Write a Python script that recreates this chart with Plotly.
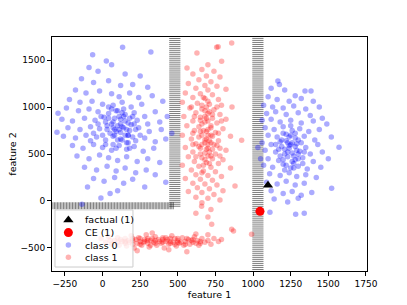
import numpy as np
import plotly.graph_objects as go

# ---- data ----
class0_a = [(133,1635),(-66,1557),(321,1585),(-296,933),(-303,731),(-11,32),(-137,-35),(25,1490),(60,1450),(-90,1420),
(-30,1380),(150,1350),(250,1330),(-140,1300),(-60,1260),(40,1280),(120,1230),(200,1240),(300,1210),(-180,1180),
(-110,1150),(-20,1170),(60,1140),(110,1110),(180,1150),(240,1100),(330,1120),(-220,1080),(-150,1050),(-70,1060),
(0,1030),(70,1020),(130,1050),(190,1000),(260,1030),(400,1060),(-240,990),(-160,960),(-90,980),(-30,950),
(40,930),(90,960),(150,920),(210,940),(280,900),(350,950),(430,900),(-270,870),(-200,850),(-120,880),
(-50,860),(10,890),(70,840),(120,870),(170,830),(230,860),(300,820),(380,840),(-230,780),(-150,760),
(-80,790),(-20,770),(30,800),(80,760),(130,790),(180,750),(240,780),(310,740),(390,760),(460,720),
(-260,690),(-180,670),(-110,700),(-40,680),(20,650),(70,690),(120,660),(170,700),(220,640),(280,670),
(350,630),(420,660),(-200,590),(-130,560),(-60,600),(0,570),(60,540),(110,590),(160,550),(210,580),
(270,530),(340,560),(-170,480),(-90,450),(-20,490),(40,460),(100,430),(160,470),(230,420),(300,450),
(380,410),(-120,360),(-40,330),(30,370),(90,320),(150,350),(220,300),(290,330),(-60,240),(10,210),
(80,250),(140,190),(200,230),(280,150),(350,280),(420,200),(100,110),(-100,150),(50,80),
(60,820),(100,800),(140,780),(90,740),(150,850),(110,900),(50,720),(170,700),(130,650),(80,880),
(190,810),(30,760),(120,730),(160,620),(70,600),(200,900),(100,960),(20,840),(180,560),(140,980),
(0,700),(40,880),(80,700),(120,820),(160,760),(200,680),(-30,820),(60,980),(100,650),(140,900),
(180,880),(220,760),(-60,720),(20,600),(90,560),(150,700),(110,760),(70,780),(130,940),(-10,900),
(250,700),(40,1000),(170,620),(210,820),(-80,640)]

class0_b = [(1165,1277),(1175,1240),(1345,1170),(1385,1170),(1120,1200),(1210,1180),(1280,1120),(1100,1110),(1160,1080),(1240,1060),
(1320,1090),(1400,1060),(1070,1020),(1130,1000),(1200,990),(1270,1010),(1350,980),(1440,1000),(1090,930),(1150,950),
(1220,920),(1300,940),(1380,910),(1460,880),(1060,860),(1120,870),(1180,840),(1250,860),(1320,830),(1400,850),
(1490,820),(1080,780),(1140,760),(1200,790),(1260,750),(1310,770),(1370,740),(1440,760),(1100,700),(1160,680),
(1220,710),(1280,670),(1340,690),(1410,650),(1520,680),(1060,620),(1120,600),(1180,630),(1240,590),(1290,610),
(1350,570),(1430,600),(1571,571),(1080,540),(1150,520),(1210,550),(1260,510),(1310,530),(1380,500),(1460,520),
(1100,450),(1170,430),(1230,470),(1280,440),(1330,460),(1400,420),(1500,450),(1070,380),(1130,360),(1200,390),
(1250,350),(1300,370),(1360,340),(1450,360),(1110,290),(1180,270),(1240,300),(1290,260),(1350,280),(1420,250),
(1090,200),(1160,180),(1220,210),(1280,170),(1340,190),(1522,135),(1120,110),(1200,80),(1260,100),(1320,60),
(1390,90),(1140,20),(1230,-10),(1300,30),(1283,-141),(1340,-130),(1112,-120),(1032,570),(1050,450),(1240,560),
(1270,480),(1220,640),(1200,440),(1260,620),(1290,540),(1230,520),(1250,700),(1190,580),(1300,450),(1270,400),(1210,330),
(1250,600),(1280,580),(1230,620),(1210,500),(1300,500),(1260,420),(1190,650),(1320,620),(1240,680),(1280,720),
(1170,550),(1340,520),(1220,380),(1300,650),(1150,600),(1270,350),(1200,720),(1330,400),(1250,800),(1180,480)]

class1_a = [(858,1681),(758,1635),(768,1640),(627,1575),(561,1415),(791,1486),(700,1450),(660,1400),(740,1380),(600,1350),
(690,1330),(780,1320),(640,1290),(720,1270),(570,1250),(680,1230),(760,1220),(620,1200),(700,1180),(820,1190),
(550,1150),(650,1140),(730,1130),(600,1100),(680,1090),(770,1080),(530,1050),(630,1040),(710,1030),(790,1020),
(860,1000),(580,990),(660,980),(740,970),(620,940),(700,930),(780,920),(540,900),(650,890),(730,880),
(820,870),(600,850),(680,840),(760,830),(560,800),(640,790),(720,780),(800,770),(610,750),(690,740),
(750,730),(530,700),(660,700),(730,690),(850,690),(590,660),(680,650),(770,640),(924,646),(620,610),
(700,600),(760,590),(550,570),(650,560),(730,550),(820,540),(600,520),(680,510),(750,500),(570,470),
(660,460),(730,450),(800,440),(610,420),(690,410),(770,400),(530,380),(640,370),(720,360),(850,350),
(590,330),(670,320),(750,310),(620,280),(700,270),(790,260),(550,240),(650,230),(730,220),(600,190),
(680,180),(760,170),(880,160),(630,140),(710,130),(800,110),(570,100),(660,90),(740,70),(620,40),
(700,30),(780,10),(660,-20),(658,-56),(720,-90),(620,-130),(700,-170),(725,-248),(858,-301),(990,-354),
(680,900),(700,700),(660,600),(720,800),(690,1000),(650,500),(710,400),(670,750),(700,850),(640,680),
(720,620),(690,550),(670,1100),(710,950),(660,300),(700,480),
(680,620),(700,560),(660,820),(720,700),(690,880),(650,740),(710,520),(680,440),(700,1060),(660,1020),
(730,920),(640,580),(690,660),(720,480),(670,380),(700,760),(650,860),(710,640),(680,960),(740,600),
(600,720),(780,560),(610,900),(790,850),(590,1000),(760,1000),(620,470),(770,720),(600,600),(780,480)]

class1_b = [(-10,-400),(20,-440),(40,-380),(60,-460),(80,-420),(100,-390),(110,-470),(130,-430),(150,-400),(160,-480),
(180,-440),(190,-370),(200,-420),(210,-500),(230,-450),(240,-390),(250,-430),(260,-470),(280,-410),(290,-360),
(300,-450),(310,-490),(320,-420),(340,-440),(350,-380),(360,-470),(370,-410),(390,-450),(400,-390),(410,-500),
(420,-430),(440,-460),(450,-400),(460,-370),(470,-440),(490,-480),(500,-420),(510,-450),(530,-390),(540,-470),
(550,-430),(570,-410),(580,-460),(600,-440),(610,-380),(630,-420),(640,-470),(660,-400),(680,-440),(700,-420),
(720,-460),(740,-400),(770,-430),(790,-410),(170,-420),(220,-410),(270,-440),(330,-400),(380,-430),(430,-410),
(480,-400),(520,-440),(560,-400),(590,-420),(620,-450),(650,-430),(200,-460),(300,-420),(400,-440),(500,-440),
(350,-420),(250,-400),(450,-430),(150,-450),(120,-410),(620,-350),(700,-360),(870,-320),(560,-540),(440,-520),
(230,-530),(330,-340),(50,-420),
(300,-400),(350,-450),(400,-410),(450,-450),(200,-400),(250,-460),(500,-400),(550,-460),(150,-430),(600,-410),
(100,-440),(650,-450),(320,-470),(420,-390),(480,-460),(280,-430)]

factual_x = [1099]
factual_y = [167]
ce_x = [1046]
ce_y = [-110]

# decision boundary segments
bnd_v1_x = 480
bnd_v1_y = np.arange(-56, 1760, 21)
bnd_h_y = -51
bnd_h_x = np.arange(-340, 476, 10)
bnd_v2_x = 1032
bnd_v2_y = np.arange(-750, 1760, 21)

x_ticks = [-250, 0, 250, 500, 750, 1000, 1250, 1500, 1750]
y_ticks = [-500, 0, 500, 1000, 1500]

legend_names = ["factual (1)", "CE (1)", "class 0", "class 1"]
legend_symbols = ["triangle-up", "circle", "circle", "circle"]
legend_colors = ["black", "red", "blue", "red"]
legend_opac = [1.0, 1.0, 0.33, 0.3]
legend_sizes = [9, 9, 5.5, 5.5]

# ---- figure ----
fig = go.Figure()
bcol = "rgba(0,0,0,0.5)"
fig.add_trace(go.Scatter(x=[bnd_v1_x]*len(bnd_v1_y), y=bnd_v1_y, mode="markers",
    marker=dict(symbol="line-ew", size=8, line=dict(width=1, color=bcol)), showlegend=False, hoverinfo="skip"))
fig.add_trace(go.Scatter(x=[bnd_v2_x]*len(bnd_v2_y), y=bnd_v2_y, mode="markers",
    marker=dict(symbol="line-ew", size=8, line=dict(width=1, color=bcol)), showlegend=False, hoverinfo="skip"))
fig.add_trace(go.Scatter(x=bnd_h_x, y=[bnd_h_y]*len(bnd_h_x), mode="markers",
    marker=dict(symbol="line-ns", size=5, line=dict(width=1, color=bcol)), showlegend=False, hoverinfo="skip"))

c0 = class0_a + class0_b
c1 = class1_a + class1_b
fig.add_trace(go.Scatter(x=[p[0] for p in c0], y=[p[1] for p in c0], mode="markers", name="class 0",
    marker=dict(size=5.5, color="blue", opacity=0.33, line=dict(width=0)), showlegend=False))
fig.add_trace(go.Scatter(x=[p[0] for p in c1], y=[p[1] for p in c1], mode="markers", name="class 1",
    marker=dict(size=5.5, color="red", opacity=0.3, line=dict(width=0)), showlegend=False))
fig.add_trace(go.Scatter(x=factual_x, y=factual_y, mode="markers", name="factual (1)",
    marker=dict(symbol="triangle-up", size=9, color="black"), showlegend=False))
fig.add_trace(go.Scatter(x=ce_x, y=ce_y, mode="markers", name="CE (1)",
    marker=dict(symbol="circle", size=9, color="red"), showlegend=False))

# custom legend on an overlay axis spanning the plot area (0..1 in each direction)
box_x = [0.0095, 0.257, 0.257, 0.0095, 0.0095]
box_y = [0.017, 0.017, 0.261, 0.261, 0.017]
fig.add_trace(go.Scatter(x=box_x, y=box_y, xaxis="x2", yaxis="y2", mode="lines", fill="toself",
    fillcolor="rgba(255,255,255,0.8)", line=dict(color="#cccccc", width=1), showlegend=False, hoverinfo="skip"))
row_y = [0.218, 0.164, 0.111, 0.059]
for sym, col, op, sz, yy in zip(legend_symbols, legend_colors, legend_opac, legend_sizes, row_y):
    fig.add_trace(go.Scatter(x=[0.052], y=[yy], xaxis="x2", yaxis="y2", mode="markers",
        marker=dict(symbol=sym, color=col, size=sz, opacity=op, line=dict(width=0)),
        showlegend=False, hoverinfo="skip"))
for name, yy in zip(legend_names, row_y):
    fig.add_annotation(x=0.099, y=yy, xref="x2", yref="y2", text=name, showarrow=False,
        xanchor="left", yanchor="middle", font=dict(size=9.5, color="black"))

axis_common = dict(showline=True, mirror=True, linecolor="black", linewidth=1, ticks="outside",
    ticklen=4, tickcolor="black", showgrid=False, zeroline=False, automargin=False,
    tickfont=dict(size=9, color="black"), title_font=dict(size=9.5, color="black"))
fig.update_xaxes(range=[-336, 1757], tickvals=x_ticks, title_text="feature 1", title_standoff=0, **axis_common)
fig.update_yaxes(range=[-745, 1745], tickvals=y_ticks, title_text="feature 2", title_standoff=2, **axis_common)

fig.update_layout(width=407, height=305, margin=dict(l=52, r=40, t=37, b=34),
    plot_bgcolor="white", paper_bgcolor="white",
    font=dict(family="DejaVu Sans", size=9, color="black"),
    showlegend=False,
    xaxis2=dict(overlaying="x", range=[0, 1], visible=False, fixedrange=True),
    yaxis2=dict(overlaying="y", range=[0, 1], visible=False, fixedrange=True))

fig.write_html("out.html", config={"displayModeBar": False},
               post_script="document.body.style.margin='0px';")
